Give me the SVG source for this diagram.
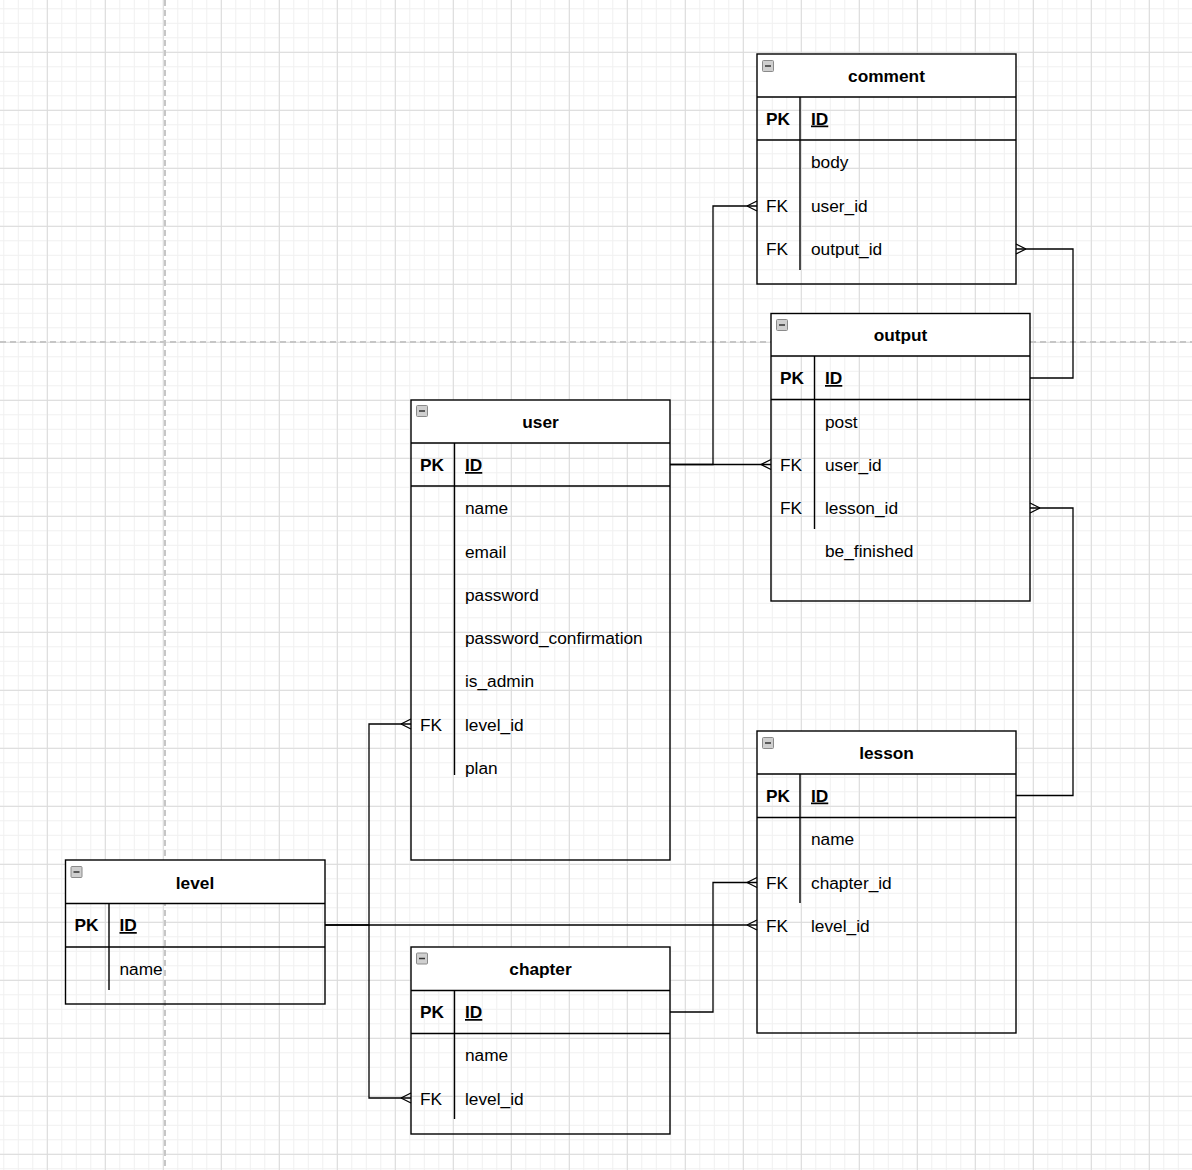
<svg xmlns="http://www.w3.org/2000/svg" width="1192" height="1170" viewBox="0 0 1192 1170">
<style>
.tbl{fill:none;stroke:#000;stroke-width:1.4}
.hdr{fill:#fff;stroke:none}
.ln{stroke:#000;stroke-width:1.4;fill:none}
.ttl{font-family:"Liberation Sans",Arial,sans-serif;font-size:17.3px;font-weight:bold;text-anchor:middle;fill:#000}
.pk{font-family:"Liberation Sans",Arial,sans-serif;font-size:17.3px;font-weight:bold;fill:#000}
.id{font-family:"Liberation Sans",Arial,sans-serif;font-size:17.3px;font-weight:bold;fill:#000;text-decoration:underline}
.tx{font-family:"Liberation Sans",Arial,sans-serif;font-size:17.3px;fill:#000}
.icon{fill:#cfcfcf;stroke:#8a8a8a;stroke-width:1}
.conn path{stroke:#000;stroke-width:1.3;fill:none}
</style>
<defs>
<pattern id="minor" width="14.5" height="14.5" patternUnits="userSpaceOnUse" x="46.8" y="51.8">
<path d="M0.5,0 V14.5 M0,0.5 H14.5" stroke="#f0f0f0" stroke-width="1" fill="none"/>
</pattern>
<pattern id="major" width="58" height="58" patternUnits="userSpaceOnUse" x="46.8" y="51.8">
<path d="M0.5,0 V58 M0,0.5 H58" stroke="#dadada" stroke-width="1" fill="none"/>
</pattern>
<marker id="many" markerUnits="userSpaceOnUse" viewBox="0 0 12 12" markerWidth="12" markerHeight="12" refX="10" refY="6" orient="auto" overflow="visible">
<path d="M0,6 L10,1 M0,6 L10,11" stroke="#000" stroke-width="1.3" fill="none"/>
</marker>
<g id="minus">
<rect class="icon" x="0.5" y="0.5" width="11" height="11" rx="1"/>
<path d="M3,6 H9" stroke="#333" stroke-width="1.5"/>
</g>
</defs>

<rect width="1192" height="1170" fill="#fff"/>
<rect width="1192" height="1170" fill="url(#minor)"/>
<rect width="1192" height="1170" fill="url(#major)"/>
<path d="M165,0 V1170 M0,342 H1192" stroke="#c6c6c6" stroke-width="2" stroke-dasharray="6 4" fill="none"/>

<g class="conn" id="connectors">
<path d="M670,464.5 H713 V206 H757" marker-end="url(#many)"/>
<path d="M670,464.5 H771" marker-end="url(#many)"/>
<path d="M1030,378 H1073 V249 H1016" marker-end="url(#many)"/>
<path d="M1016,795.5 H1073 V508 H1030" marker-end="url(#many)"/>
<path d="M325,925 H757" marker-end="url(#many)"/>
<path d="M325,925 H369 V724 H411" marker-end="url(#many)"/>
<path d="M369,925 V1098 H411" marker-end="url(#many)"/>
<path d="M670,1012 H713 V882.5 H757" marker-end="url(#many)"/>
</g>

<g id="comment">
<rect class="hdr" x="757" y="54" width="259" height="43"/>
<rect class="tbl" x="757" y="54" width="259" height="230"/>
<path class="ln" d="M757,97 H1016 M757,140 H1016 M800,97 V270"/>
<use href="#minus" x="762" y="60"/>
<text class="ttl" x="886.5" y="81.5">comment</text>
<text class="pk" x="766" y="124.5">PK</text>
<text class="id" x="811" y="124.5">ID</text>
<text class="tx" x="811" y="168">body</text>
<text class="tx" x="766" y="211.5">FK</text>
<text class="tx" x="811" y="211.5">user_id</text>
<text class="tx" x="766" y="255">FK</text>
<text class="tx" x="811" y="255">output_id</text>
</g>

<g id="output">
<rect class="hdr" x="771" y="313.5" width="259" height="42.5"/>
<rect class="tbl" x="771" y="313.5" width="259" height="287.5"/>
<path class="ln" d="M771,356 H1030 M771,399.5 H1030 M814.5,356 V529"/>
<use href="#minus" x="776" y="319"/>
<text class="ttl" x="900.5" y="341">output</text>
<text class="pk" x="780" y="384">PK</text>
<text class="id" x="825" y="384">ID</text>
<text class="tx" x="825" y="427.5">post</text>
<text class="tx" x="780" y="471">FK</text>
<text class="tx" x="825" y="471">user_id</text>
<text class="tx" x="780" y="514">FK</text>
<text class="tx" x="825" y="514">lesson_id</text>
<text class="tx" x="825" y="557">be_finished</text>
</g>

<g id="user">
<rect class="hdr" x="411" y="400" width="259" height="43"/>
<rect class="tbl" x="411" y="400" width="259" height="460"/>
<path class="ln" d="M411,443 H670 M411,486 H670 M454.5,443 V775"/>
<use href="#minus" x="416" y="405"/>
<text class="ttl" x="540.5" y="428">user</text>
<text class="pk" x="420" y="471">PK</text>
<text class="id" x="465" y="471">ID</text>
<text class="tx" x="465" y="514">name</text>
<text class="tx" x="465" y="557.5">email</text>
<text class="tx" x="465" y="601">password</text>
<text class="tx" x="465" y="644">password_confirmation</text>
<text class="tx" x="465" y="687">is_admin</text>
<text class="tx" x="420" y="730.5">FK</text>
<text class="tx" x="465" y="730.5">level_id</text>
<text class="tx" x="465" y="773.5">plan</text>
</g>

<g id="level">
<rect class="hdr" x="65.5" y="860" width="259.5" height="43.5"/>
<rect class="tbl" x="65.5" y="860" width="259.5" height="144"/>
<path class="ln" d="M65.5,903.5 H325 M65.5,947 H325 M109,903.5 V990"/>
<use href="#minus" x="70.5" y="866"/>
<text class="ttl" x="195" y="888.5">level</text>
<text class="pk" x="74.5" y="931">PK</text>
<text class="id" x="119.5" y="931">ID</text>
<text class="tx" x="119.5" y="974.5">name</text>
</g>

<g id="chapter">
<rect class="hdr" x="411" y="947" width="259" height="43.5"/>
<rect class="tbl" x="411" y="947" width="259" height="187"/>
<path class="ln" d="M411,990.5 H670 M411,1033.5 H670 M454.5,990.5 V1119"/>
<use href="#minus" x="416" y="952.5"/>
<text class="ttl" x="540.5" y="975">chapter</text>
<text class="pk" x="420" y="1018">PK</text>
<text class="id" x="465" y="1018">ID</text>
<text class="tx" x="465" y="1061">name</text>
<text class="tx" x="420" y="1104.5">FK</text>
<text class="tx" x="465" y="1104.5">level_id</text>
</g>

<g id="lesson">
<rect class="hdr" x="757" y="731" width="259" height="43"/>
<rect class="tbl" x="757" y="731" width="259" height="302"/>
<path class="ln" d="M757,774 H1016 M757,817.5 H1016 M800,774 V903"/>
<use href="#minus" x="762" y="737"/>
<text class="ttl" x="886.5" y="759">lesson</text>
<text class="pk" x="766" y="801.5">PK</text>
<text class="id" x="811" y="801.5">ID</text>
<text class="tx" x="811" y="845">name</text>
<text class="tx" x="766" y="888.5">FK</text>
<text class="tx" x="811" y="888.5">chapter_id</text>
<text class="tx" x="766" y="931.5">FK</text>
<text class="tx" x="811" y="931.5">level_id</text>
</g>
</svg>
